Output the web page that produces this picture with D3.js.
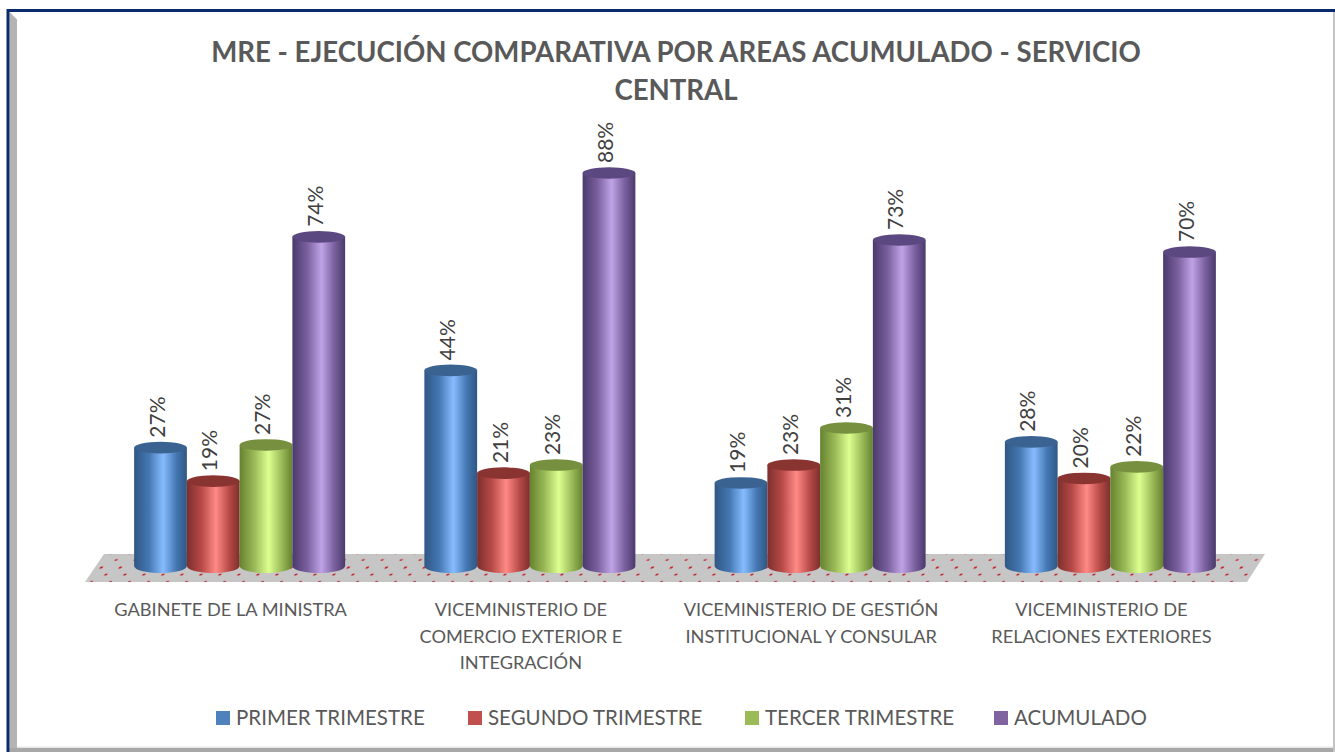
<!DOCTYPE html>
<html><head><meta charset="utf-8">
<script src="https://cdnjs.cloudflare.com/ajax/libs/d3/7.8.5/d3.min.js"></script>
<style>html,body{margin:0;padding:0;background:#fff}svg{display:block}text{font-family:Lato,"Open Sans",sans-serif}</style>
</head><body><div id="c"></div>
<script>
const titleLines = ["MRE - EJECUCIÓN COMPARATIVA POR AREAS ACUMULADO - SERVICIO","CENTRAL"];
const categoryKeys = ["gabinete","comercio","gestion","relaciones"];
const categoryLabels = [
  ["GABINETE DE LA MINISTRA"],
  ["VICEMINISTERIO DE","COMERCIO EXTERIOR E","INTEGRACIÓN"],
  ["VICEMINISTERIO DE GESTIÓN","INSTITUCIONAL Y CONSULAR"],
  ["VICEMINISTERIO DE","RELACIONES EXTERIORES"]
];
const seriesNames = ["PRIMER TRIMESTRE","SEGUNDO TRIMESTRE","TERCER TRIMESTRE","ACUMULADO"];
const primer = [26.5,43.8,18.6,27.8];
const segundo = [19,20.8,22.6,19.6];
const tercer = [27.1,22.6,30.9,22.2];
const acumulado = [73.7,88,73,70.3];
const seriesValues = [primer,segundo,tercer,acumulado];
const legendColors = ["#4f81bd","#c0504d","#9bbb59","#8064a2"];
const shades = [
  {edge:"#2f5783",mid:"#4477b2",light:"#86bcff",top:"#3a6391"},
  {edge:"#7c2f2d",mid:"#b84a47",light:"#ff8a86",top:"#8a3432"},
  {edge:"#66822f",mid:"#9aba58",light:"#dcff90",top:"#76903f"},
  {edge:"#4a3a6c",mid:"#7a5f9e",light:"#bfa3e6",top:"#5c4880"}
];

const W=1335,H=752;
const svg=d3.select("#c").append("svg").attr("width",W).attr("height",H);
const defs=svg.append("defs");
shades.forEach((s,i)=>{
  const g=defs.append("linearGradient").attr("id","g"+i).attr("x1","0").attr("x2","1").attr("y1","0").attr("y2","0");
  [[0,s.edge],[.28,s.mid],[.55,s.light],[.8,s.mid],[1,s.edge]].forEach(d=>g.append("stop").attr("offset",d[0]).attr("stop-color",d[1]));
});
const pat=defs.append("pattern").attr("id","dots").attr("patternUnits","userSpaceOnUse")
  .attr("width",19).attr("height",14.6).attr("patternTransform","translate(97,553) skewX(-35)");
pat.append("rect").attr("width",19).attr("height",14.6).attr("fill","#c6c6c6");
pat.append("ellipse").attr("cx",5).attr("cy",7).attr("rx",1.5).attr("ry",0.9).attr("fill","#c4222a");
pat.append("ellipse").attr("cx",14.5).attr("cy",14.3).attr("rx",1.5).attr("ry",0.9).attr("fill","#c4222a");
pat.append("ellipse").attr("cx",14.5).attr("cy",0.3).attr("rx",1.5).attr("ry",0.9).attr("fill","#c4222a");

// frame
svg.append("rect").attr("x",8).attr("y",10.5).attr("width",1325).attr("height",738).attr("fill","#fff");
svg.append("path").attr("d","M9.5 12L17 19.5V752H9.5Z").attr("fill","#b4b4b4");
svg.append("path").attr("d","M17 746.5H1333V748H17Z").attr("fill","#e6e6e6");
svg.append("path").attr("d","M9.5 748H1335V752H9.5Z").attr("fill","#a8a8a8");
svg.append("path").attr("d","M1333 12H1335V752H1333Z").attr("fill","#c4c4c4");
svg.append("path").attr("d","M6.5 752V9H1335V12H9.5V752Z").attr("fill","#0b2a6b");

// title
svg.append("g").selectAll("text").data(titleLines).join("text")
  .attr("x",676).attr("y",(d,i)=>62+i*38).attr("text-anchor","middle")
  .attr("font-size",27.6).attr("font-weight",700).attr("fill","#595959").text(d=>d);

// scales
const x0=d3.scaleBand().domain(categoryKeys).range([94.5,1255.5]);
const x1=d3.scaleBand().domain(seriesNames).range([-105.5,105.5]);
const y=d3.scaleLinear().domain([0,88]).range([566,173]);
const rx=x1.bandwidth()/2, ryTop=5.8, ryBot=7;

// floor
svg.append("path").attr("d","M104 554H1265L1247 582H85Z").attr("fill","url(#dots)");

// bars
const groups=svg.append("g").selectAll("g").data(categoryKeys).join("g")
  .attr("transform",d=>`translate(${x0(d)+x0.bandwidth()/2},0)`);
groups.each(function(k,ci){
  const g=d3.select(this);
  seriesNames.forEach((n,si)=>{
    const v=seriesValues[si][ci], cx=x1(n)+rx, top=y(v), bot=y(0);
    g.append("path").attr("d",`M${cx-rx} ${top}V${bot}A${rx} ${ryBot} 0 0 0 ${cx+rx} ${bot}V${top}Z`).attr("fill",`url(#g${si})`);
    g.append("ellipse").attr("cx",cx).attr("cy",top).attr("rx",rx).attr("ry",ryTop).attr("fill",shades[si].top);
    g.append("text").attr("transform",`translate(${cx+4},${top-10}) rotate(-90)`)
      .attr("font-size",21).attr("fill","#404040").text(Math.round(v)+"%");
  });
  g.append("g").selectAll("text").data(categoryLabels[ci]).join("text")
    .attr("x",-9).attr("y",(d,i)=>616+i*26.5).attr("text-anchor","middle")
    .attr("font-size",18.2).attr("fill","#595959").text(d=>d);
});

// legend
const legX=[216,468,745,994];
const lg=svg.append("g").selectAll("g").data(seriesNames).join("g").attr("transform",(d,i)=>`translate(${legX[i]},711)`);
lg.append("rect").attr("width",14).attr("height",14).attr("fill",(d,i)=>legendColors[i]);
lg.append("text").attr("x",20).attr("y",14).attr("font-size",20.5).attr("fill","#595959").text(d=>d);
</script></body></html>
